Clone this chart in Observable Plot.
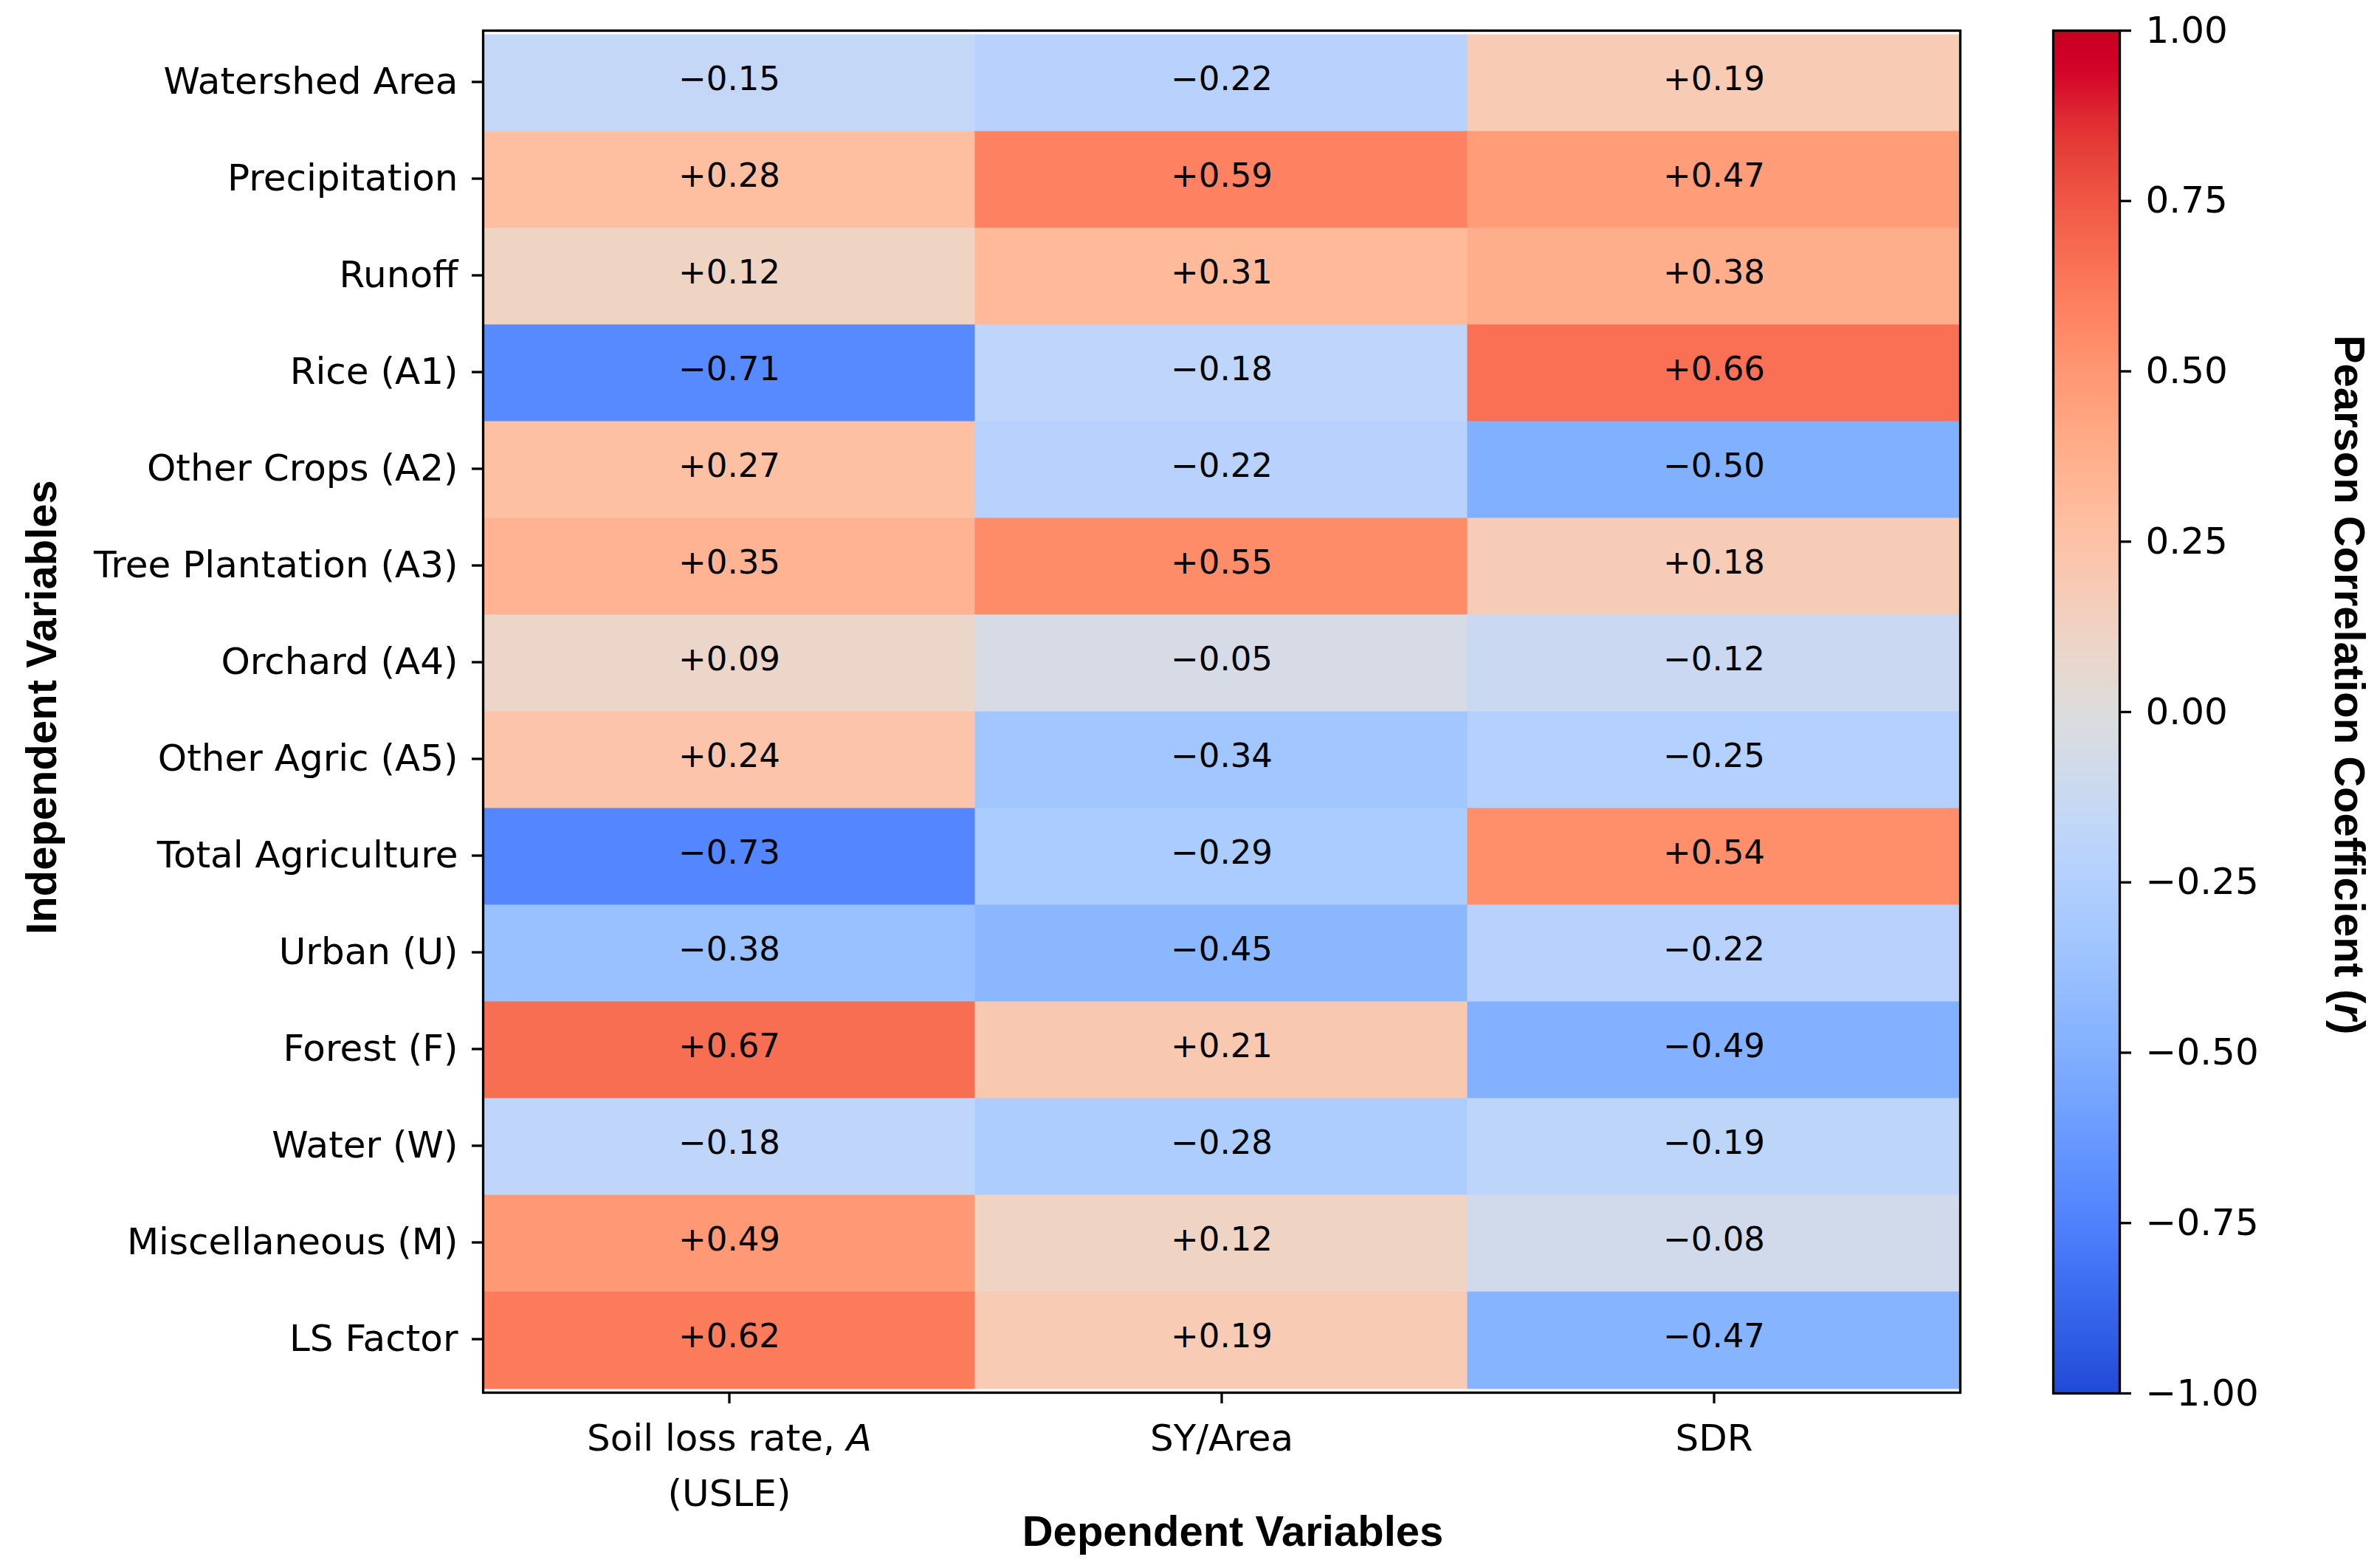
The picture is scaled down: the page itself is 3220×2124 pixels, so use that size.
<!DOCTYPE html>
<html>
<head>
<meta charset="utf-8">
<script src="https://cdn.jsdelivr.net/npm/d3@7"></script>
<script src="https://cdn.jsdelivr.net/npm/@observablehq/plot@0.6"></script>
<style>
html, body { margin: 0; padding: 0; background: #ffffff; }
#chart { position: relative; width: 3220px; height: 2124px; overflow: hidden; background: #ffffff; }
#chart svg { position: absolute; top: 0; }
</style>
</head>
<body>
<div id="chart"></div>
<script>
// ---- data ----
const rows = [
  "Watershed Area", "Precipitation", "Runoff", "Rice (A1)", "Other Crops (A2)",
  "Tree Plantation (A3)", "Orchard (A4)", "Other Agric (A5)", "Total Agriculture",
  "Urban (U)", "Forest (F)", "Water (W)", "Miscellaneous (M)", "LS Factor"
];
const columns = ["Soil loss rate, A\n(USLE)", "SY/Area", "SDR"];
const soilLoss = [-0.15, 0.28, 0.12, -0.71, 0.27, 0.35, 0.09, 0.24, -0.73, -0.38, 0.67, -0.18, 0.49, 0.62];
const syArea   = [-0.22, 0.59, 0.31, -0.18, -0.22, 0.55, -0.05, -0.34, -0.29, -0.45, 0.21, -0.28, 0.12, 0.19];
const sdr      = [0.19, 0.47, 0.38, 0.66, -0.50, 0.18, -0.12, -0.25, 0.54, -0.22, -0.49, -0.19, -0.08, -0.47];
const colorbarTicks = [-1, -0.75, -0.5, -0.25, 0, 0.25, 0.5, 0.75, 1];
const xTitle = "Dependent Variables";
const yTitle = "Independent Variables";
const cbTitle = "Pearson Correlation Coefficient (r)";

// coolwarm palette (Moreland) control colours, slightly more vivid like the reference
const coolwarmBase = [
  "#3b4cc0","#445acc","#4d68d7","#5775e1","#6282ea","#6c8ef1","#779af7","#82a5fb",
  "#8db0fe","#98b9ff","#a3c2ff","#aec9fd","#b8d0f9","#c2d5f4","#ccd9ee","#d5dbe6",
  "#dddddd","#e5d8d1","#ecd3c5","#f1ccb9","#f5c4ad","#f7bba0","#f7b194","#f7a687",
  "#f49a7b","#f18d6f","#ec7f63","#e57058","#de604d","#d55042","#cb3e38","#c0282f","#b40426"
];
const coolwarm = coolwarmBase.map((c, i) => {
  const h = d3.lch(c);
  h.c *= 1.2;
  if (i > 16) h.l += 2 * (i - 16) / 16;
  return d3.rgb(h).formatHex();
});
const coolwarmInterp = d3.interpolateRgbBasis(coolwarm);

const series = [soilLoss, syArea, sdr];
const table = [];
rows.forEach((row, i) => columns.forEach((col, j) => table.push({row, col, r: series[j][i]})));

const fmt = v => (v >= 0 ? "+" : "\u2212") + Math.abs(v).toFixed(2);
const colorScale = {type: "linear", domain: [-1, 1], interpolate: coolwarmInterp, clamp: true};

// ---- main heatmap ----
const main = Plot.plot({
  width: 3220,
  height: 2124,
  marginLeft: 654,
  marginRight: 565,
  marginTop: 41,
  marginBottom: 238,
  style: {fontFamily: "DejaVu Sans", fontSize: "50px", background: "transparent", color: "black"},
  x: {domain: columns, padding: 0, label: null},
  y: {domain: rows, padding: 0, label: null},
  color: colorScale,
  marks: [
    Plot.cell(table, {x: "col", y: "row", fill: "r", stroke: "r", strokeWidth: 1, inset: 0}),
    Plot.text(table, {x: "col", y: "row", text: d => fmt(d.r), fontSize: 45, fill: "black", dy: -5}),
    Plot.frame({stroke: "black", strokeWidth: 3.3}),
    Plot.axisY({anchor: "left", tickSize: 15, tickPadding: 19, strokeWidth: 3.3, fontSize: 50, label: null, dy: -2}),
    Plot.axisX({anchor: "bottom", tickSize: 15, tickPadding: 10, strokeWidth: 3.3, fontSize: 50, lineHeight: 1.5, label: null}),
    Plot.text([xTitle], {text: d => d, frameAnchor: "bottom", textAnchor: "middle", lineAnchor: "bottom", dx: 15, dy: 207,
      fontFamily: "Liberation Sans", fontWeight: "bold", fontSize: 58, fill: "black"}),
    Plot.text([yTitle], {text: d => d, frameAnchor: "left", textAnchor: "middle", lineAnchor: "middle", rotate: -90, dx: -597, dy: -6,
      fontFamily: "Liberation Sans", fontWeight: "bold", fontSize: 58, fill: "black"})
  ]
});
main.style.left = "0px";

// ---- colour bar ----
const cbLeft = 2700;
const cbWidth = 520;
const colorbar = Plot.plot({
  width: cbWidth,
  height: 2124,
  marginLeft: 2781 - cbLeft,
  marginRight: cbWidth - (2871 - cbLeft),
  marginTop: 41,
  marginBottom: 2124 - 1887,
  style: {fontFamily: "DejaVu Sans", fontSize: "50px", background: "transparent", color: "black"},
  x: {domain: [0, 1], axis: null},
  y: {domain: [-1, 1], axis: null},
  color: colorScale,
  marks: [
    Plot.raster({fill: (x, y) => y, x1: 0, x2: 1, y1: -1, y2: 1, width: 1, height: 256}),
    Plot.frame({stroke: "black", strokeWidth: 3.3}),
    Plot.axisY({anchor: "right", ticks: colorbarTicks, tickFormat: d3.format(".2f"), tickSize: 15,
      tickPadding: 20, strokeWidth: 3.3, fontSize: 50, label: null}),
    Plot.text([cbTitle], {text: d => d, frameAnchor: "right", textAnchor: "middle", lineAnchor: "middle", rotate: 90,
      dx: 3181 - 2871, dy: -37,
      fontFamily: "Liberation Sans", fontWeight: "bold", fontSize: 58, fill: "black"})
  ]
});
colorbar.style.left = cbLeft + "px";

// italic parts of some labels
function italicize(svg, full, before, ital, after) {
  const ns = "http://www.w3.org/2000/svg";
  for (const el of svg.querySelectorAll("text, tspan")) {
    if (el.children.length === 0 && el.textContent === full) {
      el.textContent = before;
      const t = document.createElementNS(ns, "tspan");
      t.setAttribute("font-style", "italic");
      t.textContent = ital;
      el.appendChild(t);
      if (after) el.appendChild(document.createTextNode(after));
    }
  }
}
italicize(main, "Soil loss rate, A", "Soil loss rate, ", "A", "");
italicize(colorbar, cbTitle, "Pearson Correlation Coefficient (", "r", ")");

const chart = document.getElementById("chart");
chart.appendChild(main);
chart.appendChild(colorbar);
</script>
</body>
</html>
